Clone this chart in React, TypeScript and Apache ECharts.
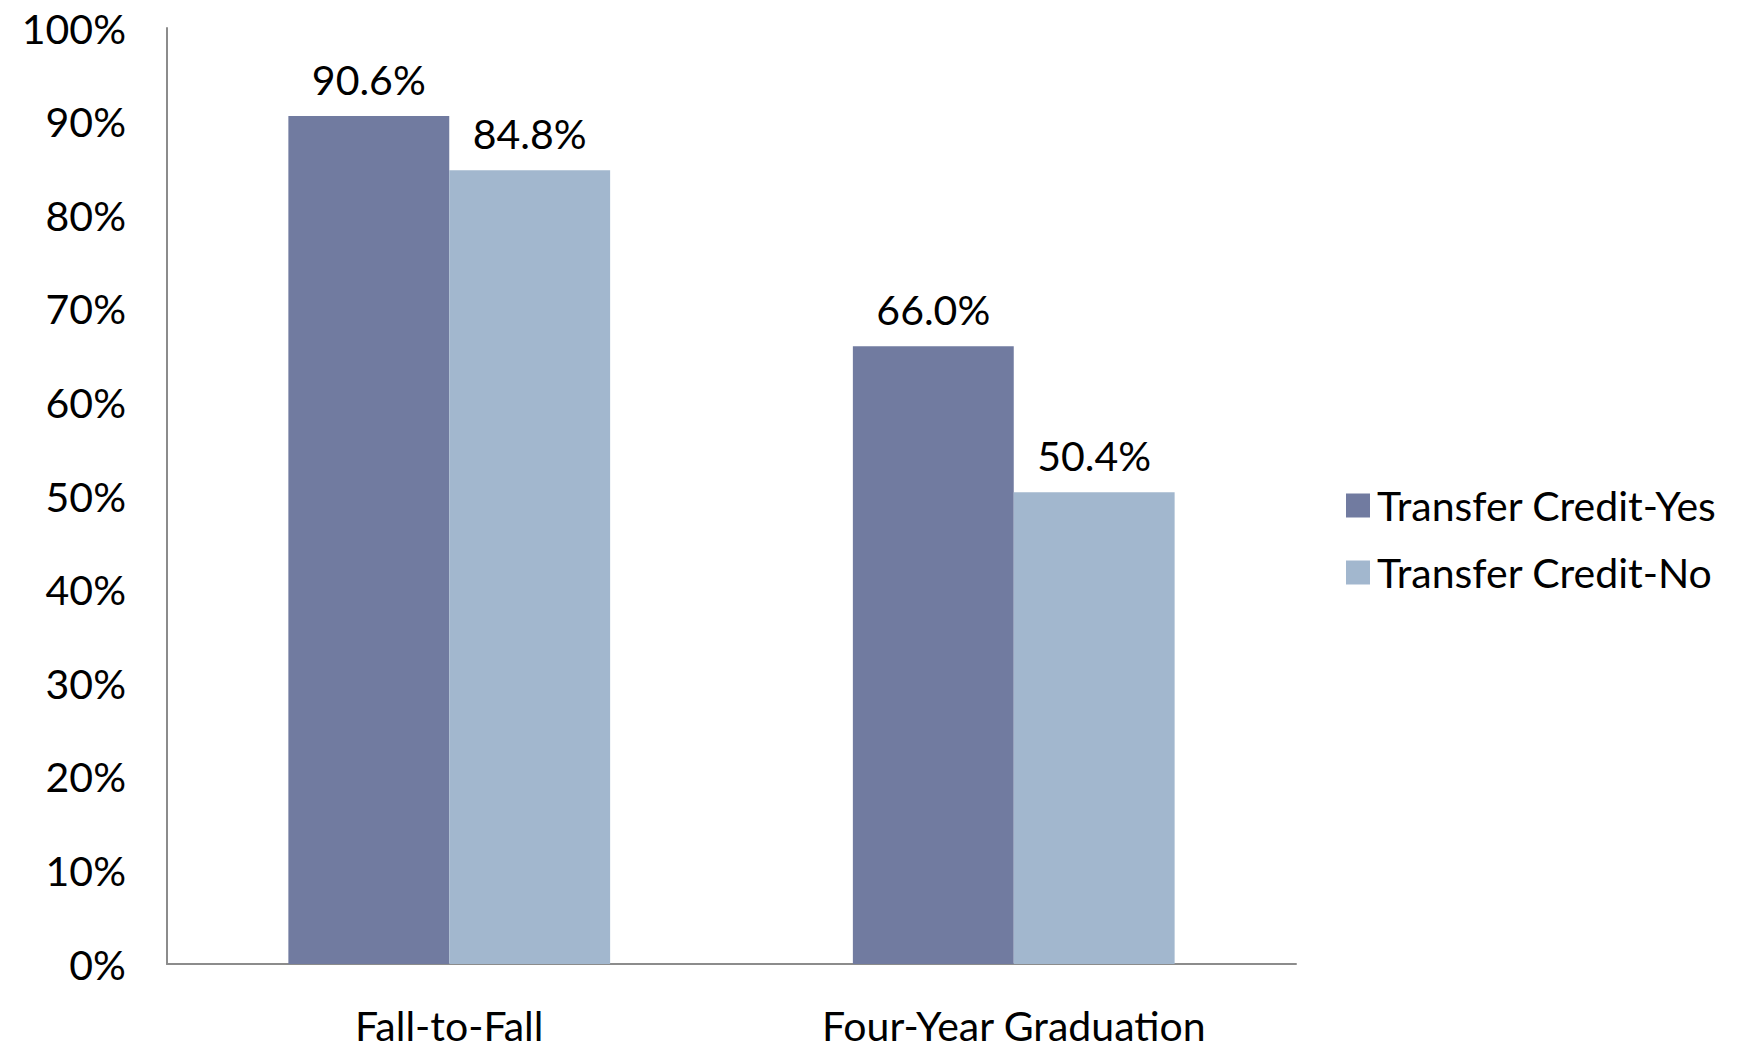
import React, { useEffect, useRef } from "react";
import * as echarts from "echarts";

const categories = ["Fall-to-Fall", "Four-Year Graduation"];
const seriesNames = ["Transfer Credit-Yes", "Transfer Credit-No"];
const yesValues = [90.6, 66.0];
const noValues = [84.8, 50.4];
const colors = ["#717ba0", "#a2b7ce"];

const FONT = "Lato";
const FS = 41;

export default function App() {
  const ref = useRef<HTMLDivElement>(null);
  useEffect(() => {
    if (!ref.current) return;
    const chart = echarts.init(ref.current, null, { renderer: "svg" });
    const label = {
      show: true,
      position: "top",
      distance: 16,
      color: "#000",
      fontFamily: FONT,
      fontSize: FS,
      formatter: (p: any) => Number(p.value).toFixed(1) + "%",
    };
    chart.setOption({
      animation: false,
      backgroundColor: "#fff",
      grid: { left: 167, right: 464, top: 28, bottom: 88, containLabel: false },
      legend: {
        orient: "vertical",
        left: 1341,
        top: 480,
        itemWidth: 24,
        itemHeight: 24,
        itemGap: 26,
        icon: "rect",
        textStyle: { fontFamily: FONT, fontSize: FS, color: "#000", padding: [0, 0, 0, 2] },
        data: seriesNames,
      },
      xAxis: {
        type: "category",
        data: categories,
        axisLine: { show: true, lineStyle: { color: "#8c8c8c", width: 2 } },
        axisTick: { show: false },
        axisLabel: { color: "#000", fontFamily: FONT, fontSize: FS, margin: 41 },
      },
      yAxis: {
        type: "value",
        min: 0,
        max: 100,
        interval: 10,
        axisLine: { show: true, lineStyle: { color: "#8c8c8c", width: 2 } },
        axisTick: { show: false },
        splitLine: { show: false },
        axisLabel: { color: "#000", fontFamily: FONT, fontSize: FS, margin: 41, formatter: "{value}%" },
      },
      series: [
        {
          name: seriesNames[0],
          type: "bar",
          data: yesValues,
          itemStyle: { color: colors[0] },
          barGap: "0%",
          barCategoryGap: "43%",
          label,
        },
        {
          name: seriesNames[1],
          type: "bar",
          data: noValues,
          itemStyle: { color: colors[1] },
          barGap: "0%",
          barCategoryGap: "43%",
          label,
        },
      ],
    });
    return () => chart.dispose();
  }, []);
  return (
    <div
      ref={ref}
      style={{ position: "fixed", left: 0, top: 0, width: 1760, height: 1052, background: "#fff" }}
    />
  );
}
